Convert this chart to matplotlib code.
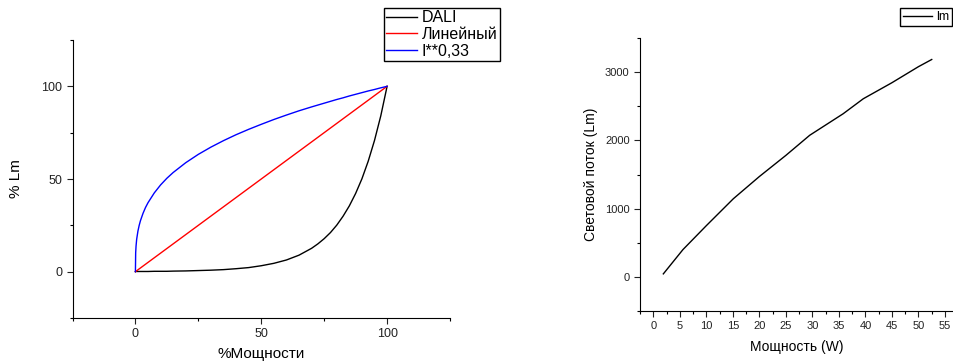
import matplotlib.pyplot as plt
from matplotlib.ticker import MultipleLocator

plt.rcParams['font.family'] = ['Liberation Sans', 'DejaVu Sans']

# Левый график: кривые диммирования, % мощности -> % светового потока
power_pct = [0, 0.1, 0.25, 0.5, 1, 1.5, 2, 3, 4, 5, 7.5, 10, 12.5, 15, 20, 25, 30, 35, 40, 45,
             50, 55, 60, 65, 70, 72.5, 75, 77.5, 80, 82.5, 85, 87.5, 90, 92.5, 95, 97.5, 100]
dali = [0, 0.1, 0.1, 0.1, 0.1, 0.1, 0.1, 0.1, 0.1, 0.1, 0.2, 0.2, 0.2, 0.3, 0.4, 0.6, 0.8, 1.1, 1.6, 2.2,
        3.2, 4.5, 6.3, 8.9, 12.6, 15.0, 17.8, 21.1, 25.1, 29.9, 35.5, 42.2, 50.1, 59.6, 70.8, 84.1, 100]
linear = [0, 0.1, 0.25, 0.5, 1, 1.5, 2, 3, 4, 5, 7.5, 10, 12.5, 15, 20, 25, 30, 35, 40, 45,
          50, 55, 60, 65, 70, 72.5, 75, 77.5, 80, 82.5, 85, 87.5, 90, 92.5, 95, 97.5, 100]
cube_root = [0, 10.2, 13.8, 17.5, 21.9, 25.0, 27.5, 31.4, 34.6, 37.2, 42.5, 46.8, 50.4, 53.5, 58.8, 63.3, 67.2, 70.7, 73.9, 76.8,
             79.5, 82.1, 84.5, 86.8, 88.9, 89.9, 90.9, 91.9, 92.9, 93.8, 94.8, 95.7, 96.6, 97.5, 98.3, 99.2, 100]

# Правый график: световой поток от мощности
watts = [1.9, 5.6, 10, 15.1, 20, 25, 29.5, 35.8, 39.6, 45, 50, 52.5]
lumens = [44, 400, 750, 1145, 1470, 1780, 2075, 2390, 2610, 2845, 3080, 3185]

fig = plt.figure(figsize=(9.54, 3.62), dpi=100)

# ---- левый график
ax1 = fig.add_axes([72.5 / 954, 1 - 318 / 362, (450 - 72.5) / 954, (318 - 40) / 362])
ax1.plot(power_pct, dali, color='black', lw=1, label='DALI')
ax1.plot(power_pct, linear, color='red', lw=1, label='Линейный')
ax1.plot(power_pct, cube_root, color='blue', lw=1, label='I**0,33')
ax1.set_xlim(-25, 125)
ax1.set_ylim(-25, 125)
ax1.xaxis.set_minor_locator(MultipleLocator(25))
ax1.yaxis.set_minor_locator(MultipleLocator(25))
ax1.set_xticks([0, 50, 100])
ax1.set_yticks([0, 50, 100])
ax1.set_xlabel('%Мощности', fontsize=11, labelpad=5)
ax1.set_ylabel('% Lm', fontsize=11, labelpad=13)
ax1.legend(loc='upper left', bbox_to_anchor=(384 / 954, 1 - 8 / 362), bbox_transform=fig.transFigure,
           fancybox=False, edgecolor='black', framealpha=1, fontsize=11.5, handlelength=1.9,
           handletextpad=0.3, borderpad=0.15, labelspacing=0.1, borderaxespad=0)

# ---- правый график
ax2 = fig.add_axes([640 / 954, 1 - 311 / 362, (954 - 640) / 954, (311 - 38) / 362])
ax2.plot(watts, lumens, color='black', lw=1, label='lm')
ax2.set_xlim(-2.5, 56.7)
ax2.set_ylim(-500, 3500)
ax2.xaxis.set_minor_locator(MultipleLocator(2.5))
ax2.set_xticks(range(0, 60, 5))
ax2.yaxis.set_minor_locator(MultipleLocator(500))
ax2.set_yticks([0, 1000, 2000, 3000])
ax2.set_xlabel('Мощность (W)', fontsize=10, labelpad=6)
ax2.set_ylabel('Световой поток (Lm)', fontsize=10, labelpad=5)
ax2.legend(loc='upper right', bbox_to_anchor=(952 / 954, 1 - 8 / 362), bbox_transform=fig.transFigure,
           fancybox=False, edgecolor='black', framealpha=1, fontsize=9, handlelength=2.3,
           handletextpad=0.3, borderpad=0.25, borderaxespad=0)

for ax, fs in [(ax1, 9), (ax2, 8)]:
    ax.spines['top'].set_visible(False)
    ax.spines['right'].set_visible(False)
    ax.tick_params(which='major', direction='out', length=4, width=0.8, labelsize=fs, colors='#222222')
    ax.tick_params(which='minor', direction='out', length=2.5, width=0.8)

fig.savefig('out.png', dpi=100)
